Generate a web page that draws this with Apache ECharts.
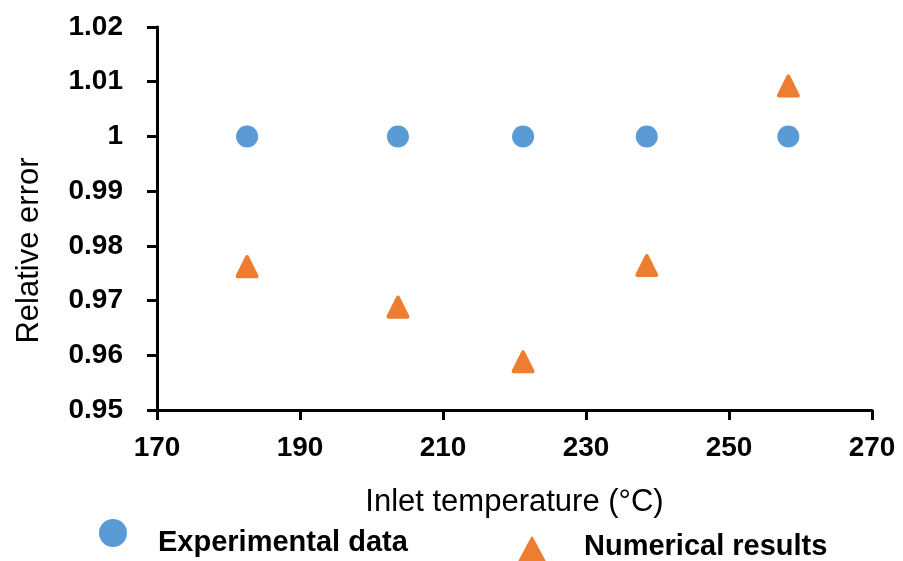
<!DOCTYPE html>
<html>
<head>
<meta charset="utf-8">
<script src="https://cdn.jsdelivr.net/npm/echarts@6/dist/echarts.min.js"></script>
<style>
  html, body { margin: 0; padding: 0; background: #fff; }
  #chart { width: 903px; height: 561px; }
</style>
</head>
<body>
<div id="chart"></div>
<script>
// Inlet temperature (°C) of each test case
const inletTemps = [182.6, 203.7, 221.2, 238.5, 258.3];
// Relative error values
const experimentalData = [1.0, 1.0, 1.0, 1.0, 1.0];
const numericalResults = [0.9762, 0.9688, 0.9588, 0.9764, 1.0092];
// Axis tick settings
const xTicks = { min: 170, max: 270, step: 20 };
const yTicks = { min: 0.95, max: 1.02, step: 0.01 };

const FONT = '"Liberation Sans", Arial, sans-serif';
const BLUE = '#5B9BD5';
const ORANGE = '#ED7D31';

const pairs = (xs, ys) => xs.map((x, i) => [x, ys[i]]);

const chart = echarts.init(document.getElementById('chart'), null, { renderer: 'canvas' });

const axisLine = { show: true, lineStyle: { color: '#000', width: 3 } };
const axisTick = { show: true, inside: false, length: 10, lineStyle: { color: '#000', width: 3 } };

// legend label drawn as a rich fragment so it can sit off the icon's centre line
const legendText = (pad) => ({
  color: '#000', fontFamily: FONT, fontWeight: 'bold', fontSize: 29,
  rich: { t: { color: '#000', fontFamily: FONT, fontWeight: 'bold', fontSize: 29, padding: pad } }
});

chart.setOption({
  animation: false,
  backgroundColor: '#fff',
  grid: { left: 157, right: 31, top: 27, bottom: 151, containLabel: false, outerBoundsMode: 'none' },
  xAxis: {
    type: 'value',
    min: xTicks.min, max: xTicks.max, interval: xTicks.step,
    axisLine, axisTick,
    splitLine: { show: false },
    axisLabel: { margin: 24, color: '#000', fontFamily: FONT, fontWeight: 'bold', fontSize: 28 },
    name: 'Inlet temperature (°C)',
    nameLocation: 'middle', nameGap: 77,
    nameTextStyle: { color: '#000', fontFamily: FONT, fontSize: 31 }
  },
  yAxis: {
    type: 'value',
    min: yTicks.min, max: yTicks.max, interval: yTicks.step,
    axisLine, axisTick,
    splitLine: { show: false },
    axisLabel: {
      margin: 34, color: '#000', fontFamily: FONT, fontWeight: 'bold', fontSize: 28,
      formatter: v => String(parseFloat(v.toFixed(2)))
    },
    name: 'Relative error',
    nameLocation: 'middle', nameGap: 112, nameRotate: 90,
    nameTextStyle: { color: '#000', fontFamily: FONT, fontSize: 31, padding: [0, 64, 0, 0] }
  },
  legend: [
    {
      data: [{ name: 'Experimental data', icon: 'circle' }],
      left: 99, top: 519, padding: 0,
      itemWidth: 28, itemHeight: 28, itemGap: 0,
      formatter: name => '{t|' + name + '}',
      textStyle: legendText([20, 0, 0, 26])
    },
    {
      data: [{ name: 'Numerical results', icon: 'triangle' }],
      left: 516, top: 532, padding: 0,
      itemWidth: 30, itemHeight: 28, itemGap: 0,
      formatter: name => '{t|' + name + '}',
      textStyle: legendText([0, 0, 10, 32])
    }
  ],
  series: [
    {
      name: 'Experimental data',
      type: 'scatter',
      symbol: 'circle',
      symbolSize: 22,
      itemStyle: { color: BLUE, opacity: 1 },
      data: pairs(inletTemps, experimentalData)
    },
    {
      name: 'Numerical results',
      type: 'scatter',
      symbol: 'triangle',
      symbolSize: 19,
      itemStyle: { color: ORANGE, borderColor: ORANGE, borderWidth: 4, borderJoin: 'round', opacity: 1 },
      data: pairs(inletTemps, numericalResults)
    }
  ]
});
</script>
</body>
</html>
